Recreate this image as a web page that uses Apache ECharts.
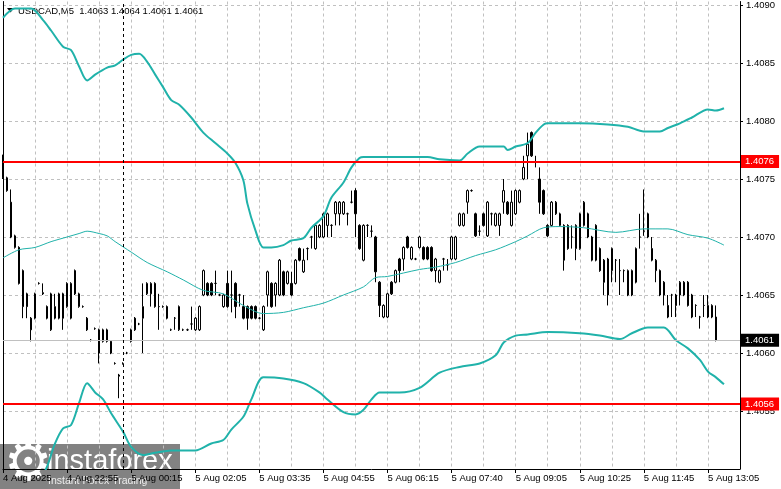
<!DOCTYPE html>
<html>
<head>
<meta charset="utf-8">
<title>USDCAD,M5</title>
<script src="https://cdn.jsdelivr.net/npm/echarts@6/dist/echarts.min.js"></script>
<style>
html, body { margin: 0; padding: 0; background: #fff; }
#chart { width: 781px; height: 489px; }
</style>
</head>
<body>
<div id="chart"></div>
<script>
// bar index -> time label (every 16 bars)
var xLabels = ['4 Aug 2025', '4 Aug 22:55', '5 Aug 00:15', '5 Aug 02:05', '5 Aug 03:35', '5 Aug 04:55',
               '5 Aug 06:15', '5 Aug 07:40', '5 Aug 09:05', '5 Aug 10:25', '5 Aug 11:45', '5 Aug 13:05'];

// M5 bars: [open, close, low, high]
var ohlc = [
  [1.40764,1.40751,1.40750,1.40771],[1.40751,1.40740,1.40739,1.40752],[1.40730,1.40700,1.40699,1.40741],[1.40691,1.40701,1.40690,1.40702],
  [1.40691,1.40660,1.40659,1.40692],[1.40671,1.40640,1.40630,1.40672],[1.40651,1.40640,1.40630,1.40652],[1.40630,1.40620,1.40610,1.40631],
  [1.40630,1.40651,1.40629,1.40652],[1.40660,1.40660,1.40659,1.40661],[1.40652,1.40651,1.40650,1.40660],[1.40640,1.40630,1.40629,1.40641],
  [1.40620,1.40651,1.40619,1.40652],[1.40630,1.40640,1.40629,1.40651],[1.40630,1.40651,1.40629,1.40652],[1.40651,1.40630,1.40620,1.40652],
  [1.40640,1.40660,1.40639,1.40661],[1.40630,1.40660,1.40629,1.40661],[1.40671,1.40651,1.40650,1.40672],[1.40640,1.40651,1.40639,1.40652],
  [1.40640,1.40640,1.40639,1.40641],[1.40630,1.40620,1.40619,1.40631],[1.40611,1.40611,1.40610,1.40612],[1.40621,1.40621,1.40620,1.40622],
  [1.40620,1.40600,1.40591,1.40621],[1.40610,1.40620,1.40609,1.40621],[1.40610,1.40620,1.40609,1.40621],[1.40610,1.40600,1.40599,1.40611],
  [1.40591,1.40591,1.40590,1.40592],[1.40581,1.40580,1.40561,1.40582],[1.40591,1.40591,1.40590,1.40592],[1.40600,1.40600,1.40599,1.40601],
  [1.40610,1.40620,1.40609,1.40621],[1.40630,1.40620,1.40619,1.40631],[1.40625,1.40625,1.40624,1.40626],[1.40630,1.40640,1.40600,1.40660],
  [1.40651,1.40660,1.40650,1.40661],[1.40651,1.40660,1.40640,1.40661],[1.40660,1.40640,1.40639,1.40661],[1.40640,1.40640,1.40620,1.40651],
  [1.40640,1.40640,1.40639,1.40641],[1.40640,1.40630,1.40629,1.40641],[1.40620,1.40620,1.40619,1.40621],[1.40630,1.40630,1.40620,1.40631],
  [1.40620,1.40640,1.40619,1.40641],[1.40620,1.40620,1.40619,1.40621],[1.40620,1.40620,1.40619,1.40621],[1.40625,1.40625,1.40620,1.40640],
  [1.40620,1.40630,1.40619,1.40631],[1.40620,1.40640,1.40619,1.40641],[1.40650,1.40671,1.40649,1.40672],[1.40660,1.40650,1.40649,1.40661],
  [1.40660,1.40650,1.40649,1.40661],[1.40660,1.40660,1.40650,1.40671],[1.40650,1.40650,1.40649,1.40651],[1.40640,1.40650,1.40639,1.40651],
  [1.40660,1.40640,1.40639,1.40671],[1.40650,1.40650,1.40635,1.40671],[1.40660,1.40640,1.40630,1.40661],[1.40650,1.40650,1.40640,1.40651],
  [1.40640,1.40630,1.40629,1.40650],[1.40640,1.40630,1.40620,1.40641],[1.40640,1.40630,1.40629,1.40641],[1.40640,1.40630,1.40629,1.40641],
  [1.40630,1.40630,1.40629,1.40631],[1.40620,1.40640,1.40619,1.40641],[1.40650,1.40670,1.40640,1.40671],[1.40660,1.40640,1.40639,1.40661],
  [1.40650,1.40660,1.40640,1.40661],[1.40650,1.40680,1.40649,1.40681],[1.40670,1.40650,1.40649,1.40671],[1.40660,1.40670,1.40659,1.40671],
  [1.40660,1.40650,1.40649,1.40670],[1.40660,1.40680,1.40659,1.40681],[1.40690,1.40680,1.40679,1.40691],[1.40670,1.40680,1.40669,1.40690],
  [1.40690,1.40690,1.40680,1.40691],[1.40700,1.40700,1.40690,1.40701],[1.40690,1.40710,1.40689,1.40711],[1.40700,1.40710,1.40699,1.40711],
  [1.40700,1.40720,1.40699,1.40721],[1.40710,1.40720,1.40700,1.40721],[1.40710,1.40710,1.40700,1.40711],[1.40720,1.40730,1.40710,1.40731],
  [1.40720,1.40730,1.40710,1.40731],[1.40720,1.40730,1.40719,1.40731],[1.40720,1.40720,1.40710,1.40721],[1.40730,1.40730,1.40729,1.40740],
  [1.40740,1.40720,1.40700,1.40742],[1.40710,1.40690,1.40689,1.40711],[1.40680,1.40710,1.40679,1.40711],[1.40710,1.40710,1.40700,1.40711],
  [1.40705,1.40705,1.40700,1.40710],[1.40700,1.40670,1.40661,1.40701],[1.40661,1.40641,1.40631,1.40662],[1.40631,1.40641,1.40630,1.40642],
  [1.40631,1.40651,1.40630,1.40652],[1.40661,1.40651,1.40650,1.40662],[1.40661,1.40671,1.40660,1.40672],[1.40681,1.40671,1.40661,1.40682],
  [1.40681,1.40691,1.40671,1.40692],[1.40700,1.40691,1.40690,1.40701],[1.40681,1.40691,1.40680,1.40692],[1.40681,1.40681,1.40680,1.40682],
  [1.40691,1.40700,1.40690,1.40701],[1.40691,1.40681,1.40680,1.40692],[1.40691,1.40681,1.40680,1.40692],[1.40691,1.40671,1.40670,1.40692],
  [1.40671,1.40681,1.40661,1.40682],[1.40661,1.40671,1.40660,1.40672],[1.40681,1.40681,1.40671,1.40682],[1.40676,1.40676,1.40671,1.40681],
  [1.40681,1.40700,1.40680,1.40701],[1.40681,1.40700,1.40680,1.40701],[1.40710,1.40720,1.40709,1.40721],[1.40710,1.40720,1.40709,1.40721],
  [1.40730,1.40740,1.40720,1.40741],[1.40740,1.40740,1.40739,1.40741],[1.40720,1.40701,1.40700,1.40721],[1.40705,1.40705,1.40701,1.40710],
  [1.40720,1.40710,1.40709,1.40721],[1.40701,1.40730,1.40700,1.40731],[1.40720,1.40720,1.40710,1.40721],[1.40710,1.40720,1.40709,1.40721],
  [1.40710,1.40720,1.40701,1.40721],[1.40730,1.40740,1.40720,1.40750],[1.40730,1.40720,1.40719,1.40731],[1.40710,1.40730,1.40709,1.40740],
  [1.40720,1.40740,1.40719,1.40741],[1.40730,1.40740,1.40729,1.40741],[1.40750,1.40760,1.40749,1.40770],[1.40770,1.40780,1.40750,1.40790],
  [1.40790,1.40770,1.40769,1.40791],[1.40765,1.40765,1.40760,1.40770],[1.40750,1.40730,1.40720,1.40760],[1.40740,1.40720,1.40719,1.40741],
  [1.40710,1.40701,1.40700,1.40711],[1.40710,1.40730,1.40709,1.40731],[1.40720,1.40730,1.40719,1.40731],[1.40710,1.40720,1.40709,1.40721],
  [1.40710,1.40680,1.40671,1.40711],[1.40710,1.40690,1.40689,1.40711],[1.40700,1.40700,1.40690,1.40710],[1.40690,1.40710,1.40680,1.40711],
  [1.40690,1.40720,1.40689,1.40721],[1.40710,1.40730,1.40709,1.40731],[1.40720,1.40700,1.40699,1.40721],[1.40680,1.40700,1.40679,1.40701],
  [1.40710,1.40680,1.40679,1.40711],[1.40690,1.40671,1.40670,1.40691],[1.40680,1.40661,1.40650,1.40681],[1.40650,1.40681,1.40641,1.40682],
  [1.40671,1.40690,1.40661,1.40691],[1.40680,1.40680,1.40661,1.40681],[1.40671,1.40671,1.40650,1.40681],[1.40671,1.40671,1.40661,1.40672],
  [1.40650,1.40671,1.40649,1.40672],[1.40650,1.40671,1.40649,1.40672],[1.40661,1.40690,1.40660,1.40691],[1.40700,1.40700,1.40690,1.40720],
  [1.40705,1.40705,1.40701,1.40741],[1.40720,1.40700,1.40699,1.40721],[1.40690,1.40680,1.40679,1.40700],[1.40671,1.40680,1.40661,1.40681],
  [1.40671,1.40650,1.40649,1.40672],[1.40661,1.40650,1.40641,1.40662],[1.40641,1.40631,1.40630,1.40650],[1.40650,1.40650,1.40631,1.40651],
  [1.40650,1.40641,1.40631,1.40651],[1.40650,1.40661,1.40641,1.40662],[1.40661,1.40650,1.40649,1.40662],[1.40661,1.40641,1.40640,1.40662],
  [1.40650,1.40631,1.40630,1.40651],[1.40641,1.40641,1.40631,1.40642],[1.40631,1.40631,1.40621,1.40632],[1.40641,1.40641,1.40631,1.40650],
  [1.40631,1.40641,1.40630,1.40650],[1.40631,1.40641,1.40630,1.40642],[1.40631,1.40611,1.40610,1.40641]
];

// Bollinger bands: [bar index, price]
var bandUpper = [
  [0,1.40889],[3,1.40897],[7,1.40897],[10,1.40887],[12,1.40878],[15,1.40864],[17,1.40861],[19,1.40847],[21,1.40835],
  [23,1.40840],[26,1.40846],[28,1.40848],[30,1.40853],[32,1.40857],[34,1.40858],[36,1.40851],[38,1.40840],[40,1.40829],
  [42,1.40818],[44,1.40814],[47,1.40803],[50,1.40790],[53,1.40781],[56,1.40772],[58,1.40764],[60,1.40749],[61,1.40729],
  [63,1.40706],[65,1.40691],[67,1.40691],[70,1.40693],[72,1.40697],[75,1.40699],[77,1.40708],[80,1.40718],[82,1.40734],
  [85,1.40747],[87,1.40760],[89,1.40768],[90,1.40769],[106,1.40769],[109,1.40767],[114,1.40766],[116,1.40772],[119,1.40778],
  [125,1.40778],[126,1.40775],[128,1.40778],[131,1.40781],[133,1.40790],[135,1.40797],[136,1.40798],[144,1.40798],[151,1.40797],
  [156,1.40795],[160,1.40791],[164,1.40791],[166,1.40794],[169,1.40798],[172,1.40803],[176,1.40810],[178,1.40809],[180,1.40811]
];
var bandMiddle = [
  [0,1.40682],[4,1.40689],[8,1.40691],[12,1.40696],[16,1.40700],[19,1.40703],[21,1.40705],[24,1.40703],[26,1.40701],
  [28,1.40696],[32,1.40687],[36,1.40678],[41,1.40670],[45,1.40663],[50,1.40654],[55,1.40651],[60,1.40641],[65,1.40634],
  [70,1.40635],[75,1.40639],[80,1.40643],[85,1.40650],[90,1.40657],[93,1.40665],[96,1.40666],[104,1.40672],[108,1.40674],
  [113,1.40678],[118,1.40684],[123,1.40689],[128,1.40696],[131,1.40701],[135,1.40708],[139,1.40709],[145,1.40708],
  [153,1.40704],[160,1.40707],[166,1.40707],[171,1.40702],[176,1.40699],[180,1.40693]
];
var bandLower = [
  [10,1.40495],[11,1.40502],[13,1.40522],[15,1.40535],[17,1.40538],[19,1.40557],[21,1.40574],[23,1.40566],[25,1.40560],
  [27,1.40548],[30,1.40532],[32,1.40519],[35,1.40512],[38,1.40514],[42,1.40516],[48,1.40516],[52,1.40522],[55,1.40525],
  [57,1.40534],[60,1.40545],[62,1.40560],[65,1.40579],[70,1.40578],[75,1.40574],[79,1.40566],[81,1.40560],[85,1.40549],
  [88,1.40547],[90,1.40551],[92,1.40560],[94,1.40566],[99,1.40566],[104,1.40570],[109,1.40583],[114,1.40588],[119,1.40591],
  [123,1.40598],[125,1.40609],[128,1.40615],[131,1.40616],[136,1.40618],[144,1.40617],[149,1.40615],[154,1.40612],
  [157,1.40617],[161,1.40622],[165,1.40622],[168,1.40611],[171,1.40604],[174,1.40594],[176,1.40584],[178,1.40579],[180,1.40573]
];

// horizontal levels and current bid
var levelValues = [1.40765, 1.40556];
var levelTexts = ['1.4076', '1.4056'];
var bidValue = 1.40611;
var bidText = '1.4061';
var daySeparator = 30;

var xMin = 0, xMax = 184, yMin = 1.4050, yMax = 1.40903;
var font = '"Liberation Sans", Arial, sans-serif';
var fs = 9.5;
var candleData = ohlc.map(function (d, i) { return [i, d[0], d[1], d[2], d[3]]; });

function priceLine(value, text, color, width, boxColor) {
  return [
    {
      coord: [xMin, value],
      lineStyle: { color: color, width: width, type: 'solid' },
      label: { show: true, position: 'end', distance: 1, formatter: text, color: '#fff',
               backgroundColor: boxColor, padding: [2, 5, 1, 4], fontSize: fs, fontFamily: font }
    },
    { coord: [xMax, value] }
  ];
}

var levelMarks = levelValues.map(function (v, k) {
  return priceLine(v, levelTexts[k], '#ff0000', 2, '#ff0000');
});
var bidMarks = [priceLine(bidValue, bidText, '#c0c0c0', 1, '#000')];
bidMarks.push([
  { coord: [daySeparator, yMin], lineStyle: { color: '#000', width: 1, type: [3, 3] }, label: { show: false } },
  { coord: [daySeparator, yMax] }
]);

function band(name, data, width, marks) {
  var s = {
    name: name, type: 'line', data: data, xAxisIndex: 0, yAxisIndex: 0,
    showSymbol: false, smooth: 0.3, z: 4, silent: true,
    lineStyle: { color: '#20b2aa', width: width },
    emphasis: { disabled: true }
  };
  if (marks) {
    s.markLine = { symbol: 'none', silent: true, animation: false, data: marks };
  }
  return s;
}

var mychart = echarts.init(document.getElementById('chart'));

var option = {
  animation: false,
  backgroundColor: '#fff',
  textStyle: { fontFamily: font },
  grid: { left: 3, right: 41, top: 1, bottom: 20, containLabel: false },
  xAxis: [
    {
      type: 'value', min: xMin, max: xMax, interval: 8,
      axisLine: { show: false }, axisTick: { show: false }, axisLabel: { show: false },
      splitLine: { show: true, showMinLine: false, showMaxLine: false, lineStyle: { color: '#c0c0c0', type: [3, 3] } }
    },
    {
      type: 'value', min: xMin, max: xMax, interval: 16, position: 'bottom',
      axisLine: { show: true, onZero: false, lineStyle: { color: '#000', width: 1 } },
      axisTick: { show: true, length: 4, lineStyle: { color: '#000' } },
      axisLabel: {
        align: 'left', margin: 4, fontSize: fs, color: '#000', fontFamily: font,
        showMaxLabel: false,
        formatter: function (v) {
          var k = Math.round(v / 16);
          return (k * 16 === v && xLabels[k]) ? xLabels[k] : '';
        }
      },
      splitLine: { show: false }
    }
  ],
  yAxis: [
    {
      type: 'value', position: 'right', min: yMin, max: yMax, interval: 0.0005,
      axisLine: { show: true, onZero: false, lineStyle: { color: '#000' } },
      axisTick: { show: true, length: 3, lineStyle: { color: '#000' } },
      axisLabel: {
        margin: 6, fontSize: fs, color: '#000', fontFamily: font,
        showMinLabel: false, showMaxLabel: false,
        formatter: function (v) { return v.toFixed(4); }
      },
      splitLine: { show: true, showMinLine: false, showMaxLine: false, lineStyle: { color: '#c0c0c0', type: [3, 3] } }
    },
    {
      type: 'value', position: 'left', min: yMin, max: yMax,
      axisLine: { show: true, onZero: false, lineStyle: { color: '#000' } },
      axisTick: { show: false }, axisLabel: { show: false }, splitLine: { show: false }
    }
  ],
  series: [
    {
      name: 'USDCAD,M5', type: 'candlestick', data: candleData,
      xAxisIndex: 0, yAxisIndex: 0,
      encode: { x: 0, y: [1, 2, 3, 4] },
      barWidth: 2, z: 3, silent: true,
      itemStyle: { color: '#fff', color0: '#000', borderColor: '#000', borderColor0: '#000', borderWidth: 1 },
      emphasis: { disabled: true }
    },
    band('Upper', bandUpper, 2, levelMarks),
    band('Middle', bandMiddle, 1, bidMarks),
    band('Lower', bandLower, 2)
  ],
  graphic: [
    { type: 'polygon', shape: { points: [[7, 8], [14, 8], [10.5, 12.5]] }, style: { fill: '#000' } },
    { type: 'text', x: 18, y: 11,
      style: { text: 'USDCAD,M5  1.4063 1.4064 1.4061 1.4061', font: fs + 'px ' + font, fill: '#000', verticalAlign: 'middle' } },
    { type: 'group', x: 0, y: 444, z: 100, children: [
      { type: 'rect', shape: { x: 0, y: 0, width: 180, height: 45 }, style: { fill: 'rgba(95,95,95,0.78)' } },
      { type: 'text', x: 4, y: 22, style: { text: '\u2699', font: '54px "DejaVu Sans"', fill: '#fff', verticalAlign: 'middle' } },
      { type: 'text', x: 47, y: 18, style: { text: 'instaforex', font: '29px ' + font, fill: '#fff', verticalAlign: 'middle' } },
      { type: 'text', x: 48, y: 37, style: { text: 'Instant Forex Trading', font: '10.5px ' + font, fill: 'rgba(255,255,255,0.85)', verticalAlign: 'middle' } }
    ] }
  ]
};

mychart.setOption(option);

window.addEventListener('resize', function () {
  mychart.resize();
});
</script>
</body>
</html>
